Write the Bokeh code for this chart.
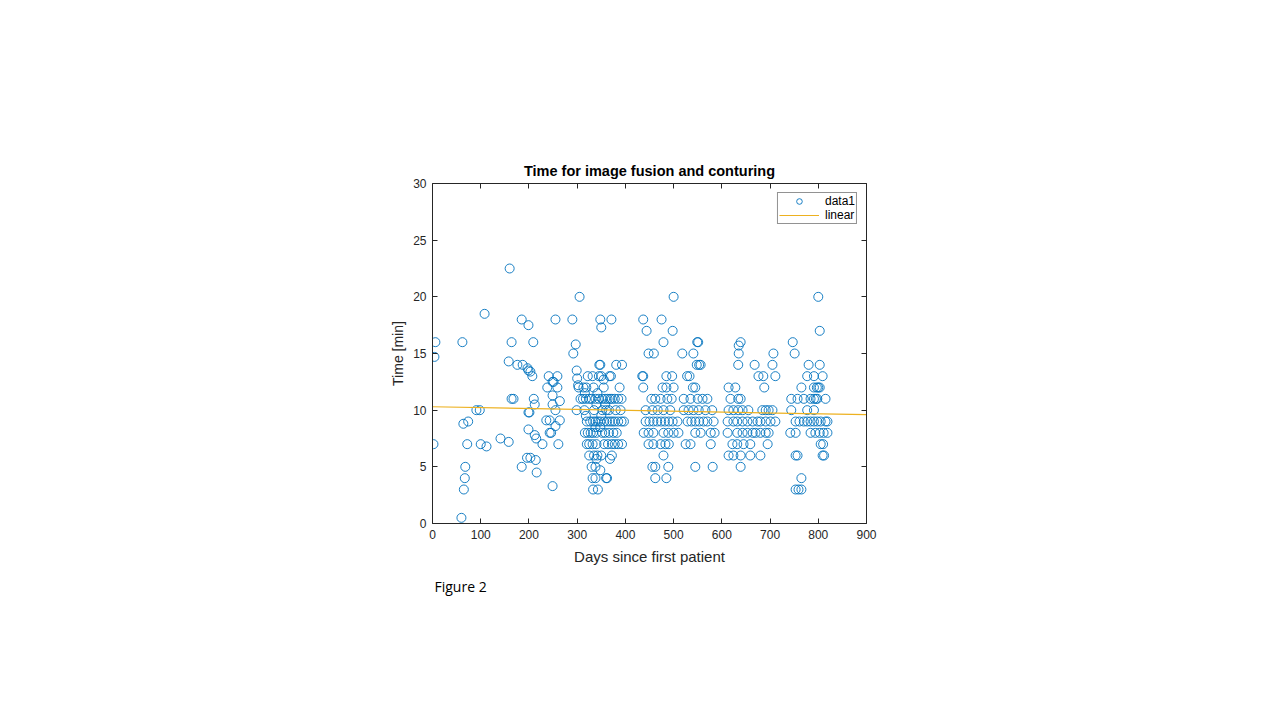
from bokeh.plotting import figure
from bokeh.models import (ColumnDataSource, Range1d, LinearAxis, FixedTicker,
                          Legend, LegendItem, Title)
from bokeh.embed import file_html
from bokeh.resources import INLINE

# ---------------- data ----------------
# early patients, 0-305 days
days_early = [2, 4, 6, 62, 60, 64, 74, 72, 68, 67, 65,
              91, 98, 100, 112, 108, 141, 158, 158, 160, 164, 164, 168,
              176, 187, 185, 185, 197, 199, 203, 199, 199, 201, 199, 196, 203,
              207, 209, 210, 212, 212, 214, 216, 215, 228,
              236, 243, 241, 238, 249, 251, 259, 259, 249, 264, 249, 255, 264,
              255, 243, 246, 261, 249, 255,
              290, 292, 297, 299, 299, 305, 300, 302]
mins_early = [7, 14.7, 16, 16, 0.5, 8.8, 9, 7, 5, 4, 3,
              10, 10, 7, 6.8, 18.5, 7.5, 7.2, 14.3, 22.5, 16, 11, 11,
              14, 14, 18, 5, 13.7, 13.5, 13.4, 17.5, 9.8, 9.8, 8.3, 5.8, 5.8,
              13, 16, 11, 10.5, 7.8, 5.6, 4.5, 7.5, 7,
              9.1, 9.1, 13, 12, 12.5, 12.5, 13, 12, 11.3, 10.8, 10.5, 10, 9.1,
              8.6, 8, 8, 7, 3.3, 18,
              18, 15, 15.8, 10, 13.5, 20, 12.8, 12.2]

# 300-400 days
days_a = [348, 371, 350, 346, 348, 381, 393,
          322, 332, 345, 350, 367, 370, 355,
          303, 313, 319, 334, 355, 388, 316, 342,
          307, 312, 318, 325, 330, 338, 345, 352, 358, 363, 368, 372, 378, 385, 392,
          340, 358, 315, 335, 352, 360, 366, 380, 390, 318, 350,
          320, 327, 333, 338, 343, 348, 356, 362, 368, 373, 378, 385, 392, 397,
          338, 348, 316, 322, 328, 333, 340, 352, 358, 366, 375, 382,
          320, 325, 332, 340, 356, 364, 372, 378, 385, 393,
          325, 335, 342, 350, 372, 340, 368, 330, 338, 348,
          332, 338, 360, 362, 333, 343]
mins_a = [18, 18, 17.3, 14, 14, 14, 14,
          13, 13, 13, 13, 13, 13, 12.7,
          12, 12, 12, 12, 12, 12, 11.5, 11.5,
          11, 11, 11, 11, 11, 11, 11, 11, 11, 11, 11, 11, 11, 11, 11,
          10.5, 10.5, 10, 10, 10, 10, 10, 10, 10, 9.5, 9.5,
          9, 9, 9, 9, 9, 9, 9, 9, 9, 9, 9, 9, 9, 9,
          8.5, 8.5, 8, 8, 8, 8, 8, 8, 8, 8, 8, 8,
          7, 7, 7, 7, 7, 7, 7, 7, 7, 7,
          6, 6, 6, 6, 6, 5.7, 5.7, 5, 5, 4.7,
          4, 4, 4, 4, 3, 3]

# 430-590 days
days_b = [500, 437, 475, 444, 498, 479, 549, 551, 448, 459, 518, 541,
          548, 553, 556, 435, 437, 485, 497, 528, 533,
          437, 477, 485, 500, 540, 545,
          454, 462, 473, 487, 496, 521, 535, 550, 560, 570,
          442, 456, 467, 479, 493, 521, 531, 541, 552, 566, 580,
          442, 450, 458, 466, 474, 482, 490, 498, 508, 529, 537, 545, 553, 562, 570, 583,
          438, 448, 458, 479, 489, 500, 510, 545, 556, 577, 585,
          448, 458, 473, 483, 490, 525, 535, 577,
          479, 456, 462, 489, 545, 581, 462, 485]
mins_b = [20, 18, 18, 17, 17, 16, 16, 16, 15, 15, 15, 15,
          14, 14, 14, 13, 13, 13, 13, 13, 13,
          12, 12, 12, 12, 12, 12,
          11, 11, 11, 11, 11, 11, 11, 11, 11, 11,
          10, 10, 10, 10, 10, 10, 10, 10, 10, 10, 10,
          9, 9, 9, 9, 9, 9, 9, 9, 9, 9, 9, 9, 9, 9, 9, 9,
          8, 8, 8, 8, 8, 8, 8, 8, 8, 8, 8,
          7, 7, 7, 7, 7, 7, 7, 7,
          6, 5, 5, 5, 5, 5, 4, 4]

# 610-715 days
days_c = [639, 635, 635, 707, 634, 668, 705, 676, 686, 711,
          614, 628, 688, 618, 634, 639,
          614, 624, 634, 643, 655, 684, 691, 697, 705,
          612, 624, 632, 643, 653, 664, 674, 680, 691, 701, 711,
          612, 632, 643, 653, 664, 670, 680, 691, 697,
          622, 632, 645, 659, 695, 614, 624, 639, 659, 680, 639]
mins_c = [16, 15.7, 15, 15, 14, 14, 14, 13, 13, 13,
          12, 12, 12, 11, 11, 11,
          10, 10, 10, 10, 10, 10, 10, 10, 10,
          9, 9, 9, 9, 9, 9, 9, 9, 9, 9, 9,
          8, 8, 8, 8, 8, 8, 8, 8, 8,
          7, 7, 7, 7, 7, 6, 6, 6, 6, 6, 5]

# 740-820 days
days_d = [800, 803, 747, 751, 780, 803, 777, 791, 809,
          765, 791, 797, 800, 803,
          744, 757, 770, 784, 791, 795, 798, 815, 744, 777, 791,
          753, 761, 770, 777, 784, 791, 798, 805, 815, 819,
          742, 753, 784, 794, 803, 811, 819,
          805, 810, 753, 757, 809, 812, 765, 753, 759, 765]
mins_d = [20, 17, 16, 15, 14, 14, 13, 13, 13,
          12, 12, 12, 12, 12,
          11, 11, 11, 11, 11, 11, 11, 11, 10, 10, 10,
          9, 9, 9, 9, 9, 9, 9, 9, 9, 9,
          8, 8, 8, 8, 8, 8, 8,
          7, 7, 6, 6, 6, 6, 4, 3, 3, 3]

# linear fit line
fit_days = [0, 900]
fit_mins = [10.3, 9.6]

x_ticks = [0, 100, 200, 300, 400, 500, 600, 700, 800, 900]
y_ticks = [0, 5, 10, 15, 20, 25, 30]

days = days_early + days_a + days_b + days_c + days_d
mins = mins_early + mins_a + mins_b + mins_c + mins_d

# ---------------- figure ----------------
FONT = "Liberation Sans"
AX = "#262626"

p = figure(frame_width=434, frame_height=340,
           min_border_left=432, min_border_right=398,
           min_border_top=183, min_border_bottom=177,
           x_range=Range1d(0, 900), y_range=Range1d(0, 30),
           output_backend="svg", toolbar_location=None,
           x_axis_location=None, y_axis_location=None,
           background_fill_color="white", border_fill_color="white")
p.grid.visible = False
p.outline_line_color = None

p.title.text = "Time for image fusion and conturing"
p.title.align = "center"
p.title.text_font = FONT
p.title.text_font_size = "14.5px"
p.title.text_font_style = "bold"
p.title.text_color = "black"
p.title.offset = 0


def style_axis(ax, ticks, labels=True):
    ax.ticker = FixedTicker(ticks=ticks)
    ax.major_tick_in = 5
    ax.major_tick_out = 0
    ax.minor_tick_line_color = None
    ax.axis_line_color = AX
    ax.major_tick_line_color = AX
    ax.axis_line_width = 1
    ax.major_label_text_font = FONT
    ax.major_label_text_font_size = "12px"
    ax.major_label_text_color = AX if labels else None
    ax.axis_label_text_font = FONT
    ax.axis_label_text_font_style = "normal"
    ax.axis_label_text_color = AX


xb = LinearAxis(axis_label="Days since first patient")
style_axis(xb, x_ticks)
xb.axis_label_text_font_size = "15px"
xb.major_label_standoff = 6
xb.axis_label_standoff = 6
p.add_layout(xb, "below")

yl = LinearAxis(axis_label="Time [min]")
style_axis(yl, y_ticks)
yl.axis_label_text_font_size = "14px"
yl.major_label_standoff = 6
yl.axis_label_standoff = 4
p.add_layout(yl, "left")

xt = LinearAxis()
style_axis(xt, x_ticks, labels=False)
xt.major_label_text_font_size = "0px"
p.add_layout(xt, "above")

yr = LinearAxis()
style_axis(yr, y_ticks, labels=False)
yr.major_label_text_font_size = "0px"
p.add_layout(yr, "right")

src = ColumnDataSource(dict(days=days, mins=mins))
pts = p.scatter("days", "mins", source=src, marker="circle", size=9,
                fill_color=None, line_color="#0072BD", line_width=0.9)
fit = p.line(fit_days, fit_mins, line_color="#EDB120", line_width=1.2)

legend = Legend(items=[LegendItem(label="data1", renderers=[pts]),
                       LegendItem(label="linear", renderers=[fit])],
                location="top_right")
legend.label_text_font = FONT
legend.label_text_font_size = "12px"
legend.label_text_line_height = 0.6
legend.label_text_color = "black"
legend.label_height = 9
legend.glyph_height = 14
legend.glyph_width = 40
legend.label_standoff = 6
legend.spacing = -6
legend.padding = 1
legend.margin = 9
legend.border_line_color = AX
legend.border_line_width = 1
legend.background_fill_alpha = 1
p.add_layout(legend)

fig_title = Title(text="Figure 2", align="left", text_font="Open Sans",
                  text_font_size="14px", text_font_style="normal",
                  text_color="black", offset=2, standoff=14)
p.add_layout(fig_title, "below")

open("out.html", "w").write(file_html(p, INLINE))
